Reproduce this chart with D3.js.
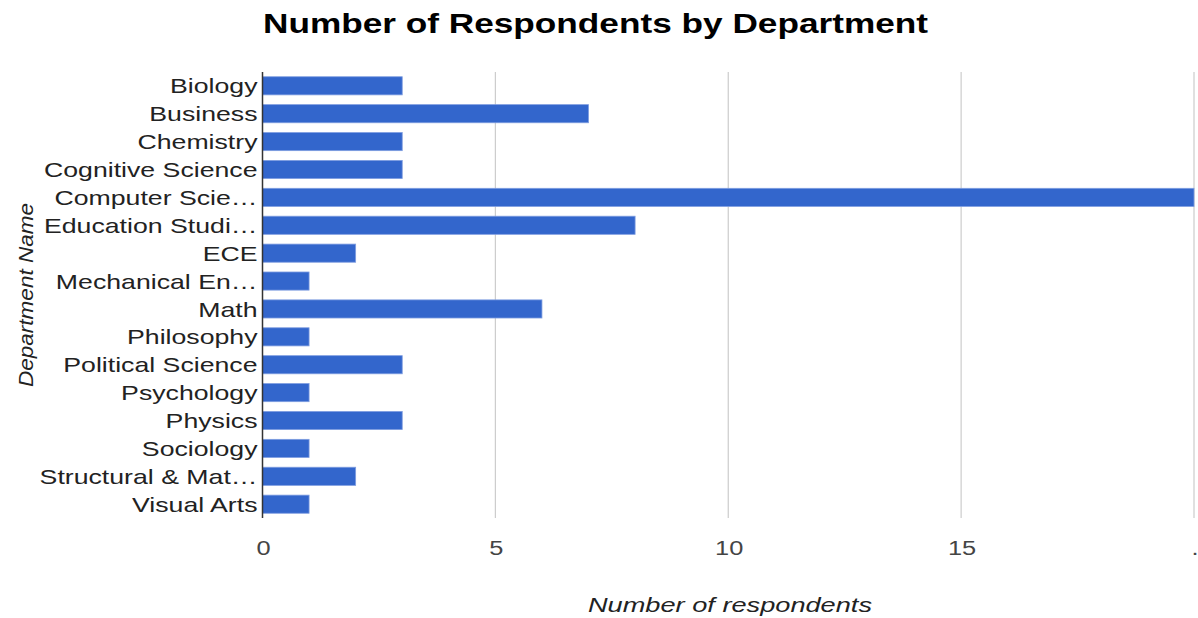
<!DOCTYPE html>
<html>
<head>
<meta charset="utf-8">
<script src="https://cdn.jsdelivr.net/npm/d3@7"></script>
<style>
  body { margin: 0; background: #fff; }
  text { font-family: "Liberation Sans", Arial, sans-serif; }
</style>
</head>
<body>
<script>
// departments, as the labels show them (long ones are cut off)
var departments = ["Biology", "Business", "Chemistry", "Cognitive Science", "Computer Scie...",
  "Education Studi...", "ECE", "Mechanical En...", "Math", "Philosophy", "Political Science",
  "Psychology", "Physics", "Sociology", "Structural & Mat...", "Visual Arts"];
var respondents = [3, 7, 3, 3, 20, 8, 2, 1, 6, 1, 3, 1, 3, 1, 2, 1];
var tickValues = [0, 5, 10, 15, 20];
var tickLabels = ["0", "5", "10", "15", "."];

var w = 1198, h = 618;
var plotLeft = 262.5, plotRight = 1194, plotTop = 72, plotBottom = 518;
var stretch = 1.27; // the original's text is drawn wide

var svg = d3.select("body").append("svg")
  .attr("width", w)
  .attr("height", h);

var x = d3.scaleLinear().domain([0, 20]).range([plotLeft, plotRight]);
var y = d3.scaleBand().domain(departments).range([plotTop, plotBottom]).paddingInner(0.35).paddingOuter(0.17);

var data = departments.map(function(d, i){ return {name: d, value: respondents[i]}; });

// gridlines
svg.selectAll("line.grid").data(tickValues.slice(1)).enter().append("line")
  .attr("class", "grid")
  .attr("x1", function(d){ return x(d); })
  .attr("x2", function(d){ return x(d); })
  .attr("y1", plotTop)
  .attr("y2", plotBottom)
  .style("stroke", "#cccccc")
  .style("stroke-width", 1.2);

// bars
svg.selectAll("rect.bar").data(data).enter().append("rect")
  .attr("class", "bar")
  .attr("x", x(0))
  .attr("y", function(d){ return y(d.name); })
  .attr("width", function(d){ return x(d.value) - x(0); })
  .attr("height", y.bandwidth())
  .style("fill", "#3366cc")
  .style("stroke", "#7f9de0")
  .style("stroke-width", 0.8);

// axis line
svg.append("line")
  .attr("x1", plotLeft).attr("x2", plotLeft)
  .attr("y1", plotTop).attr("y2", plotBottom)
  .style("stroke", "#333")
  .style("stroke-width", 1.5);

// category labels
var cats = svg.selectAll("text.cat").data(data).enter().append("text")
  .attr("class", "cat")
  .attr("x", plotLeft - 5)
  .attr("y", function(d){ return y(d.name) + y.bandwidth() / 2; })
  .attr("dy", "0.36em")
  .attr("text-anchor", "end")
  .style("font-size", "21px")
  .style("fill", "#222")
  .text(function(d){ return d.name.replace("...", "\u2026"); });
cats.each(function(){
  var len = this.getComputedTextLength();
  d3.select(this).attr("textLength", len * stretch).attr("lengthAdjust", "spacingAndGlyphs");
});

// tick labels
var ticks = svg.selectAll("text.tick").data(tickValues).enter().append("text")
  .attr("class", "tick")
  .attr("x", function(d){ return x(d) + 1; })
  .attr("y", 555)
  .attr("text-anchor", "middle")
  .style("font-size", "20px")
  .style("fill", "#444")
  .text(function(d, i){ return tickLabels[i]; });
ticks.each(function(){
  var len = this.getComputedTextLength();
  d3.select(this).attr("textLength", len * stretch).attr("lengthAdjust", "spacingAndGlyphs");
});

// title
svg.append("text")
  .attr("x", 263)
  .attr("y", 33)
  .attr("textLength", 665)
  .attr("lengthAdjust", "spacingAndGlyphs")
  .style("font-size", "28px")
  .style("font-weight", "bold")
  .style("fill", "#000")
  .text("Number of Respondents by Department");

// axis titles
svg.append("text")
  .attr("x", 588)
  .attr("y", 612)
  .attr("textLength", 284)
  .attr("lengthAdjust", "spacingAndGlyphs")
  .style("font-size", "21px")
  .style("font-style", "italic")
  .style("fill", "#222")
  .text("Number of respondents");

svg.append("text")
  .attr("transform", "translate(33,387) rotate(-90)")
  .attr("textLength", 184)
  .attr("lengthAdjust", "spacingAndGlyphs")
  .style("font-size", "21px")
  .style("font-style", "italic")
  .style("fill", "#222")
  .text("Department Name");
</script>
</body>
</html>
